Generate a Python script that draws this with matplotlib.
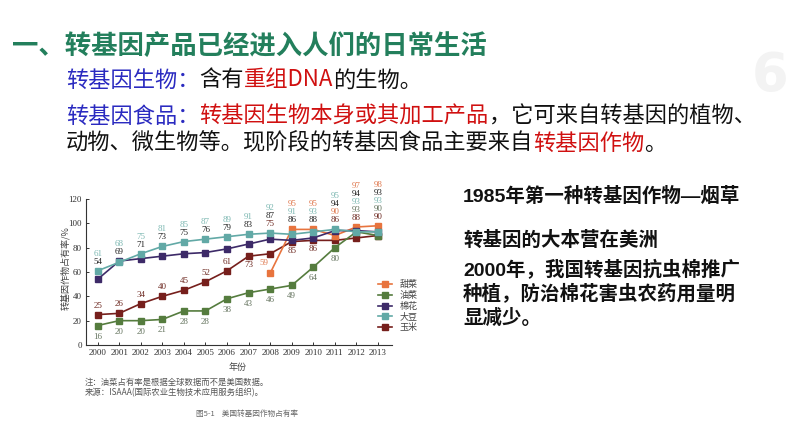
import numpy as np
import matplotlib
matplotlib.use('Agg')
import matplotlib.pyplot as plt

plt.rcParams['font.family'] = ['Noto Sans CJK SC', 'DejaVu Sans']

# chart data
years = list(range(2000, 2014))
sugar_beet = [np.nan] * 8 + [59, 95, 95, 90, 97, 98]
canola = [16, 20, 20, 21, 28, 28, 38, 43, 46, 49, 64, 80, 93, 90]
cotton = [54, 69, 71, 73, 75, 76, 79, 83, 87, 86, 88, 94, 94, 93]
soybean = [61, 68, 75, 81, 85, 87, 89, 91, 92, 91, 93, 95, 93, 93]
corn = [25, 26, 34, 40, 45, 52, 61, 73, 75, 85, 86, 86, 88, 90]
crop_names = ['甜菜', '油菜', '棉花', '大豆', '玉米']
y_ticks = [0, 20, 40, 60, 80, 100, 120]

W, H = 794, 447


def fx(px):
    return px / W


def fy(py):
    return 1 - py / H


fig = plt.figure(figsize=(W / 100, H / 100), dpi=100)
renderer = fig.canvas.get_renderer()

# ---- slide text ----
fig.text(fx(12), fy(46), '一、转基因产品已经进入人们的日常生活', fontsize=19,
         fontweight='bold', color='#237f5c', va='center')
fig.text(fx(752), fy(76), '6', fontsize=38, fontweight='bold', color='#f3f3f3',
         va='center', family='DejaVu Sans')

blue = '#2a2ac0'
red = '#d01010'
black = '#111111'


def rich_line(x, y, parts, size, weight='normal'):
    for s, c in parts:
        t = fig.text(fx(x), fy(y), s, color=c, fontsize=size, fontweight=weight,
                     va='center', ha='left')
        x += t.get_window_extent(renderer).width


rich_line(66, 80, [('转基因生物：', blue), ('含有', black), ('重组DNA', red),
                   ('的生物。', black)], 16)
rich_line(66, 116, [('转基因食品：', blue), ('转基因生物本身或其加工产品', red),
                    ('，它可来自转基因的植物、', black)], 16)
rich_line(66, 143, [('动物、微生物等。现阶段的转基因食品主要来自', black),
                    ('转基因作物', red), ('。', black)], 16)

right_lines = [(196, '1985年第一种转基因作物—烟草'),
               (240, '转基因的大本营在美洲'),
               (270, '2000年，我国转基因抗虫棉推广'),
               (294, '种植，防治棉花害虫农药用量明'),
               (318, '显减少。')]
for yy, s in right_lines:
    fig.text(fx(463), fy(yy), s, fontsize=14, fontweight='bold', color=black,
             va='center', family=['Liberation Sans', 'Noto Sans CJK SC'])

# ---- chart ----
ax = fig.add_axes([fx(86), fy(345), fx(392) - fx(86), fy(199) - fy(345)])

colors = {'甜菜': '#e8743e', '油菜': '#557c3e', '棉花': '#3d2a68',
          '大豆': '#62a9a6', '玉米': '#761f1c'}
label_colors = {'甜菜': '#e07a50', '油菜': '#667560', '棉花': '#222222',
                '大豆': '#7db8b2', '玉米': '#6e2a22'}
series = {'甜菜': sugar_beet, '油菜': canola, '棉花': cotton,
          '大豆': soybean, '玉米': corn}

for name in crop_names:
    ax.plot(years, series[name], color=colors[name], lw=1.2, marker='s',
            ms=4.5, mec=colors[name], mfc=colors[name], label=name,
            zorder=3 if name != '玉米' else 2)

serif = ['Liberation Serif', 'DejaVu Serif']
px = 0.72  # points per pixel

# labels stacked above the top cluster, top -> bottom
stacks = {2000: ['大豆', '棉花'], 2001: ['大豆', '棉花'], 2002: ['大豆', '棉花'],
          2003: ['大豆', '棉花'], 2004: ['大豆', '棉花'], 2005: ['大豆', '棉花'],
          2006: ['大豆', '棉花'], 2007: ['大豆', '棉花'],
          2008: ['大豆', '棉花', '玉米'], 2009: ['甜菜', '大豆', '棉花'],
          2010: ['甜菜', '大豆', '棉花'], 2011: ['大豆', '棉花', '甜菜', '玉米'],
          2012: ['甜菜', '棉花', '大豆', '油菜', '玉米'],
          2013: ['甜菜', '棉花', '大豆', '油菜', '玉米']}

for i, yr in enumerate(years):
    names = stacks[yr]
    top = max(series[n][i] for n in names)
    for k, n in enumerate(reversed(names)):
        ax.annotate(f'{series[n][i]:.0f}', (yr, top),
                    xytext=(0, (9 + 8 * k) * px), textcoords='offset points',
                    ha='center', va='center', fontsize=6.5, family=serif,
                    color=label_colors[n])
    # single labels
    if '玉米' not in names:
        off = 9 if yr <= 2006 else -9
        ax.annotate(f'{corn[i]}', (yr, corn[i]), xytext=(0, off * px),
                    textcoords='offset points', ha='center', va='center',
                    fontsize=6.5, family=serif, color=label_colors['玉米'])
    if '油菜' not in names:
        ax.annotate(f'{canola[i]}', (yr, canola[i]), xytext=(0, -11 * px),
                    textcoords='offset points', ha='center', va='center',
                    fontsize=6.5, family=serif, color=label_colors['油菜'])
    if yr == 2008:
        ax.annotate(f'{sugar_beet[i]:.0f}', (yr, sugar_beet[i]),
                    xytext=(-6 * px, 10 * px), textcoords='offset points',
                    ha='center', va='center', fontsize=6.5, family=serif,
                    color=label_colors['甜菜'])

ax.set_xlim(1999.46, 2013.65)
ax.set_ylim(0, 120)
ax.set_xticks(years)
ax.set_yticks(y_ticks)
ax.tick_params(direction='in', length=2.5, width=0.7, labelsize=6.5,
               colors='#333333', pad=3)
for lab in ax.get_xticklabels() + ax.get_yticklabels():
    lab.set_family(serif)
for s in ['top', 'right']:
    ax.spines[s].set_visible(False)
for s in ['left', 'bottom']:
    ax.spines[s].set_color('#333333')
    ax.spines[s].set_linewidth(0.8)
ax.patch.set_alpha(0)

fig.text(fx(65), fy(268), '转基因作物占有率/%', rotation=90, fontsize=6.5,
         color='#444444', ha='center', va='center')
fig.text(fx(238), fy(367), '年份', fontsize=6.5, color='#444444',
         ha='center', va='center')

leg = ax.legend(loc='upper left', bbox_to_anchor=(fx(378), fy(280)),
                bbox_transform=fig.transFigure, frameon=False, fontsize=6.5,
                handlelength=1.6, labelspacing=0.2, handletextpad=0.8,
                borderpad=0, borderaxespad=0)
for t in leg.get_texts():
    t.set_color('#444444')
    t.set_rotation(0)

fig.text(fx(85), fy(382), '注：油菜占有率是根据全球数据而不是美国数据。', fontsize=6,
         color='#555555', va='center')
fig.text(fx(85), fy(393), '来源：ISAAA(国际农业生物技术应用服务组织)。', fontsize=6,
         color='#555555', va='center')
fig.text(fx(247), fy(414), '图5-1    美国转基因作物占有率', fontsize=5.5,
         color='#666666', va='center', ha='center')

fig.savefig('out.png', dpi=100)
